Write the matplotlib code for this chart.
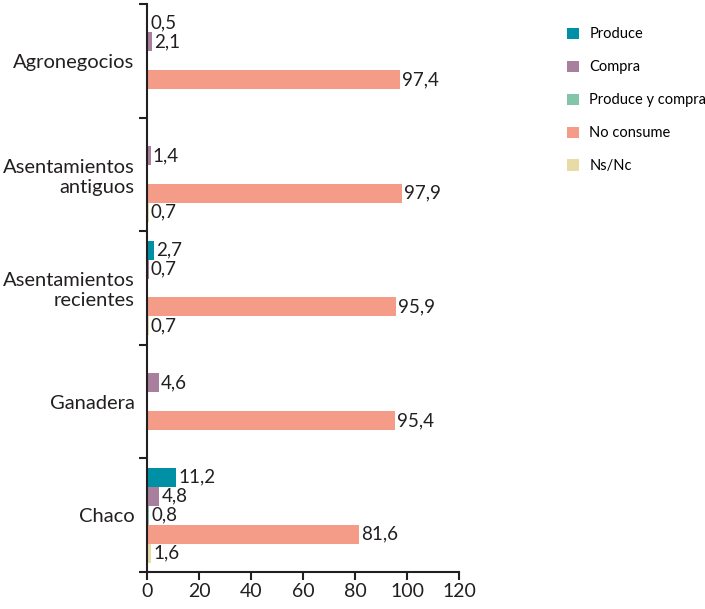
import matplotlib
matplotlib.use("Agg")
import matplotlib.pyplot as plt
from matplotlib.patches import Patch
import numpy as np

categories = ["Agronegocios", "Asentamientos\nantiguos", "Asentamientos\nrecientes", "Ganadera", "Chaco"]
series_names = ["Produce", "Compra", "Produce y compra", "No consume", "Ns/Nc"]
produce = [0.5, 0, 2.7, 0, 11.2]
compra = [2.1, 1.4, 0.7, 4.6, 4.8]
produce_y_compra = [0, 0, 0, 0, 0.8]
no_consume = [97.4, 97.9, 95.9, 95.4, 81.6]
ns_nc = [0, 0.7, 0.7, 0, 1.6]
x_ticks = [0, 20, 40, 60, 80, 100, 120]

colors = ["#0090a6", "#a97f9e", "#84c5aa", "#f59c88", "#e8dba6"]
series = [produce, compra, produce_y_compra, no_consume, ns_nc]

plt.rcParams['font.family'] = ['Lato', 'DejaVu Sans']
fig = plt.figure(figsize=(7.05, 6.09), dpi=100)
ax = fig.add_axes([147/705, 1-572/609, (459-147)/705, (572-4)/609])

bh = 1/6
pos = np.arange(len(categories))
for j, (vals, col) in enumerate(zip(series, colors)):
    y = pos + (j - 2) * bh
    ax.barh(y, vals, height=bh, color=col, edgecolor='none')
    for yy, v in zip(y, vals):
        if v > 0:
            ax.text(v + 0.8, yy, f"{v:.1f}".replace('.', ','), va='center', ha='left',
                    fontsize=13.5, color='#231f20')

ax.set_xlim(0, 120)
ax.set_ylim(len(categories) - 0.5, -0.5)
ax.set_xticks(x_ticks)
ax.set_xticklabels([str(t) for t in x_ticks], fontsize=14, color='#231f20')
ax.set_yticks(pos)
ax.set_yticklabels(categories, fontsize=14.5, color='#231f20', ha='right',
                   multialignment='right')
ax.tick_params(axis='y', which='major', length=0, pad=9)
ax.set_yticks(np.arange(-0.5, len(categories) + 0.5, 1), minor=True)
ax.tick_params(axis='y', which='minor', length=6, width=1.5, color='#231f20')
ax.tick_params(axis='x', length=6, width=1.5, color='#231f20', pad=2)
for s in ['top', 'right']:
    ax.spines[s].set_visible(False)
for s in ['left', 'bottom']:
    ax.spines[s].set_linewidth(1.5)
    ax.spines[s].set_color('#231f20')

handles = [Patch(facecolor=c, edgecolor='none') for c in colors]
fig.legend(handles, series_names, loc='upper left', bbox_to_anchor=(560/705, 1-20/609),
           frameon=False, fontsize=10.5, handlelength=0.8, handleheight=0.8,
           labelspacing=1.3, handletextpad=0.7, borderpad=0)

fig.savefig("out.png", dpi=100)
